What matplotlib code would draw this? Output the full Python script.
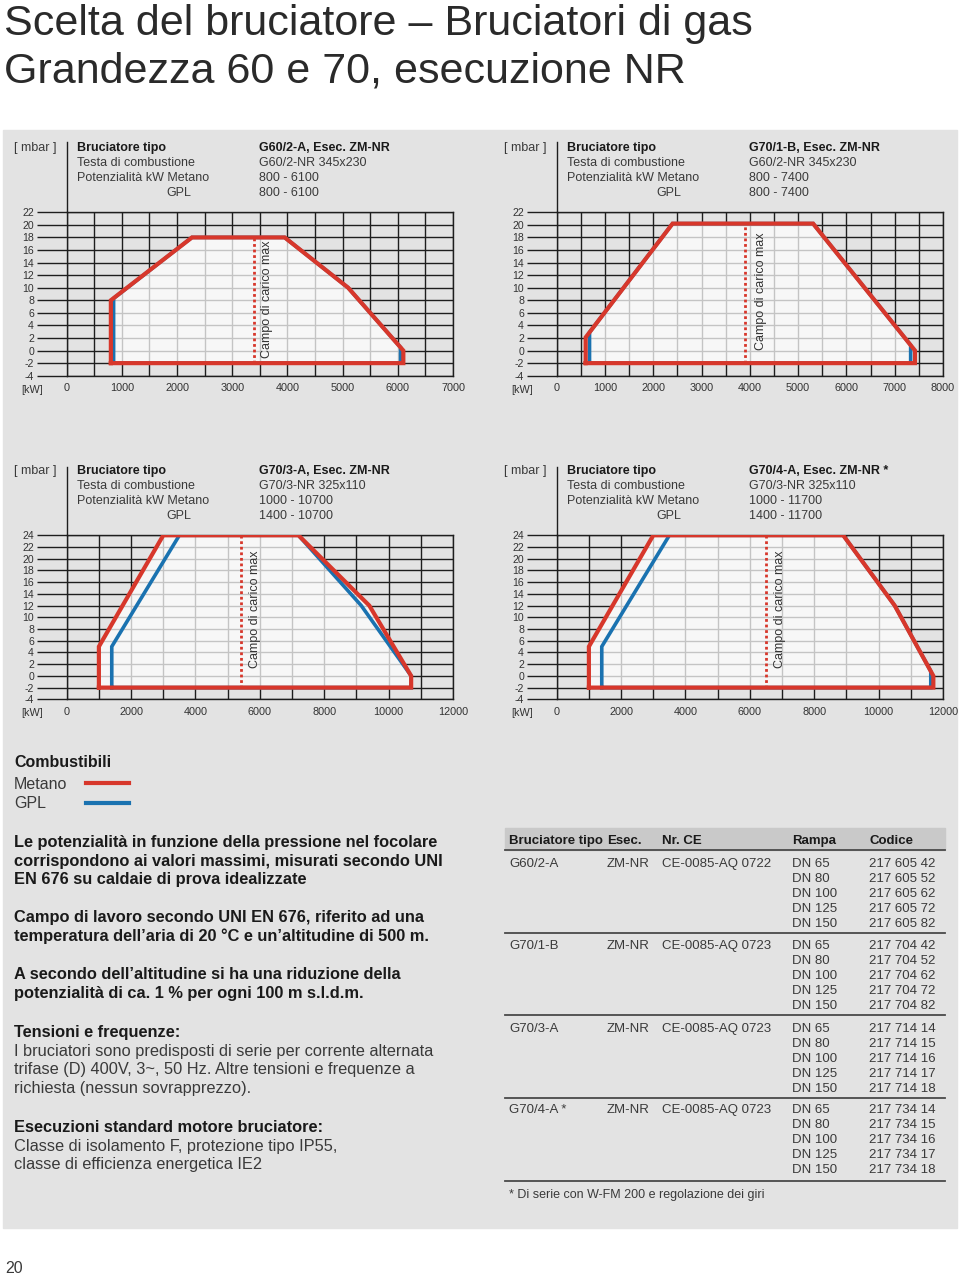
import matplotlib.pyplot as plt
from matplotlib.patches import Rectangle
from matplotlib.lines import Line2D

plt.rcParams['font.family'] = ['Liberation Sans', 'DejaVu Sans']
plt.rcParams['axes.unicode_minus'] = False

W, H = 960, 1274
RED = '#d7372b'
BLUE = '#1a72b0'
DARK = '#1a1a1a'
TXT = '#3a3a3a'

# working ranges (kW, mbar)
metano_1 = [(800, -2), (800, 8), (2270, 18), (3950, 18), (5100, 10), (6100, 0), (6100, -2)]
gpl_1 = [(850, -2), (850, 8.3), (2270, 18), (3950, 18), (5100, 10), (6050, 0.5), (6050, -2)]
metano_2 = [(600, -2), (600, 2.1), (2400, 20.2), (5310, 20.2), (7420, 0), (7420, -2)]
gpl_2 = [(680, -2), (680, 2.9), (2400, 20.2), (5310, 20.2), (7330, 0.86), (7330, -2)]
metano_3 = [(1000, -2), (1000, 5), (3000, 24), (7200, 24), (9400, 12), (10700, 0), (10700, -2)]
gpl_3 = [(1400, -2), (1400, 5), (3500, 24), (7200, 24), (9150, 12), (10700, 0), (10700, -2)]
metano_4 = [(1000, -2), (1000, 5), (3000, 24), (8900, 24), (10500, 12), (11700, 0), (11700, -2)]
gpl_4 = [(1400, -2), (1400, 5), (3500, 24), (8900, 24), (10500, 12), (11620, 0.8), (11620, -2)]

# "Campo di carico max" line: x position and top
carico_x = [3400, 3900, 5400, 6500]
carico_top = [18, 20.2, 24, 24]
carico_text_x = [3630, 4240, 5840, 6930]
carico_text_y = [-1.2, 0.1, 1.3, 1.3]

x_max = [7000, 8000, 12000, 12000]
y_max = [22, 22, 24, 24]
x_label_step = [1000, 1000, 2000, 2000]
x_grid_step = [500, 500, 1000, 1000]

burner_types = ["G60/2-A, Esec. ZM-NR", "G70/1-B, Esec. ZM-NR",
                "G70/3-A, Esec. ZM-NR", "G70/4-A, Esec. ZM-NR *"]
heads = ["G60/2-NR 345x230", "G60/2-NR 345x230", "G70/3-NR 325x110", "G70/3-NR 325x110"]
range_metano = ["800 - 6100", "800 - 7400", "1000 - 10700", "1000 - 11700"]
range_gpl = ["800 - 6100", "800 - 7400", "1400 - 10700", "1400 - 11700"]

# table
table_header = ["Bruciatore tipo", "Esec.", "Nr. CE", "Rampa", "Codice"]
table_types = ["G60/2-A", "G70/1-B", "G70/3-A", "G70/4-A *"]
table_esec = ["ZM-NR", "ZM-NR", "ZM-NR", "ZM-NR"]
table_ce = ["CE-0085-AQ 0722", "CE-0085-AQ 0723", "CE-0085-AQ 0723", "CE-0085-AQ 0723"]
rampe = ["DN 65", "DN 80", "DN 100", "DN 125", "DN 150"]
codici = [["217 605 42", "217 605 52", "217 605 62", "217 605 72", "217 605 82"],
          ["217 704 42", "217 704 52", "217 704 62", "217 704 72", "217 704 82"],
          ["217 714 14", "217 714 15", "217 714 16", "217 714 17", "217 714 18"],
          ["217 734 14", "217 734 15", "217 734 16", "217 734 17", "217 734 18"]]

metano_all = [metano_1, metano_2, metano_3, metano_4]
gpl_all = [gpl_1, gpl_2, gpl_3, gpl_4]


def fx(x):
    return x / W


def fy(y):
    return 1 - y / H


def ftext(x, y, s, **kw):
    kw.setdefault('va', 'baseline')
    fig.text(fx(x), fy(y), s, **kw)


def fline(x0, x1, y0, y1, **kw):
    fig.add_artist(Line2D([fx(x0), fx(x1)], [fy(y0), fy(y1)], transform=fig.transFigure, **kw))


fig = plt.figure(figsize=(W / 100, H / 100), dpi=100)
fig.patches.append(Rectangle((fx(3), fy(1228)), 954 / W, 1098 / H, transform=fig.transFigure,
                             color='#e3e3e3', zorder=-5))

# title
ftext(4, 35, "Scelta del bruciatore – Bruciatori di gas", fontsize=31, color='#2a2a2a')
ftext(4, 83, "Grandezza 60 e 70, esecuzione NR", fontsize=31, color='#2a2a2a')

# charts
for i in range(4):
    ox = 0 if i % 2 == 0 else 490
    oy = 0 if i < 2 else 323
    left, top = ox + 66.7, oy + 212.3
    w = 386.3
    h = 163.4 if i < 2 else 164
    ax = fig.add_axes([fx(left), fy(top + h), w / W, h / H])
    ax.set_facecolor('none')
    ax.set_xlim(0, x_max[i])
    ax.set_ylim(-4, y_max[i])
    ax.set_xticks(range(0, x_max[i] + 1, x_label_step[i]))
    ax.set_xticks(range(0, x_max[i] + 1, x_grid_step[i]), minor=True)
    ax.set_yticks(range(-4, y_max[i] + 1, 2))
    ax.set_axisbelow(True)
    ax.grid(True, which='both', axis='x', color='#1e1e1e', lw=1)
    ax.grid(True, which='major', axis='y', color='#1e1e1e', lw=1)
    ax.tick_params(axis='x', which='both', length=0, pad=5.5, labelsize=7.8, labelcolor='#333')
    ax.tick_params(axis='y', length=21.4, width=1, pad=2.2, labelsize=7.6,
                   labelcolor='#333', color='#1e1e1e')
    for s in ax.spines.values():
        s.set_color('#1e1e1e')
        s.set_linewidth(1)

    mx, my = zip(*metano_all[i])
    gx, gy = zip(*gpl_all[i])
    ax.fill(mx, my, color='white', alpha=0.74, lw=0, zorder=1)
    ax.plot(list(gx) + [gx[0]], list(gy) + [gy[0]], color=BLUE, lw=2.6, zorder=2,
            solid_joinstyle='miter')
    ax.plot([carico_x[i], carico_x[i]], [-2, carico_top[i]], color=RED, lw=2,
            ls=(0, (1, 1)), zorder=2.5)
    ax.plot(list(mx) + [mx[0]], list(my) + [my[0]], color=RED, lw=3, zorder=3,
            solid_joinstyle='miter')
    ax.text(carico_text_x[i], carico_text_y[i], "Campo di carico max", rotation=90,
            ha='center', va='bottom', fontsize=9, color='#333', zorder=4)

    # y axis line running up into the header
    fline(left, left, oy + (142 if i < 2 else 143.7), top, color='#1e1e1e', lw=1)

    ftext(ox + 14, oy + 151, "[ mbar ]", fontsize=9, color=TXT)
    ftext(ox + 21, oy + 393, "[kW]", fontsize=7.8, color='#333')
    ftext(ox + 77, oy + 151, "Bruciatore tipo", fontsize=9, fontweight='bold', color=DARK)
    ftext(ox + 77, oy + 166, "Testa di combustione", fontsize=9, color=TXT)
    ftext(ox + 77, oy + 181, "Potenzialità kW Metano", fontsize=9, color=TXT)
    ftext(ox + 166, oy + 196, "GPL", fontsize=9, color=TXT)
    ftext(ox + 259, oy + 151, burner_types[i], fontsize=9, fontweight='bold', color=DARK)
    ftext(ox + 259, oy + 166, heads[i], fontsize=9, color=TXT)
    ftext(ox + 259, oy + 181, range_metano[i], fontsize=9, color=TXT)
    ftext(ox + 259, oy + 196, range_gpl[i], fontsize=9, color=TXT)

# legend
ftext(14, 767, "Combustibili", fontsize=11.5, fontweight='bold', color=DARK)
ftext(14, 789, "Metano", fontsize=11.5, color=TXT)
ftext(14, 808, "GPL", fontsize=11.5, color=TXT)
fline(86, 129, 783.3, 783.3, color=RED, lw=3)
fline(86, 129, 802.7, 802.7, color=BLUE, lw=3)

# notes
bold_lines = [
    (846.7, "Le potenzialità in funzione della pressione nel focolare"),
    (865.7, "corrispondono ai valori massimi, misurati secondo UNI"),
    (884.3, "EN 676 su caldaie di prova idealizzate"),
    (921.7, "Campo di lavoro secondo UNI EN 676, riferito ad una"),
    (940.7, "temperatura dell’aria di 20 °C e un’altitudine di 500 m."),
    (979.3, "A secondo dell’altitudine si ha una riduzione della"),
    (998.3, "potenzialità di ca. 1 % per ogni 100 m s.l.d.m."),
    (1036.7, "Tensioni e frequenze:"),
    (1131.7, "Esecuzioni standard motore bruciatore:"),
]
regular_lines = [
    (1055.7, "I bruciatori sono predisposti di serie per corrente alternata"),
    (1074.3, "trifase (D) 400V, 3~, 50 Hz. Altre tensioni e frequenze a"),
    (1093.3, "richiesta (nessun sovrapprezzo)."),
    (1150.7, "Classe di isolamento F, protezione tipo IP55,"),
    (1169.3, "classe di efficienza energetica IE2"),
]
for y, s in bold_lines:
    ftext(14, y, s, fontsize=11.8, fontweight='bold', color=DARK)
for y, s in regular_lines:
    ftext(14, y, s, fontsize=11.8, color=TXT)

# table
col_x = [509, 607, 662, 792, 869]
fig.patches.append(Rectangle((fx(505), fy(850)), 440 / W, 22 / H, transform=fig.transFigure,
                             color='#c9c9c9', zorder=0.5))
fline(505, 945, 850, 850, color='#4a4a4a', lw=1.3)
for x, s in zip(col_x, table_header):
    ftext(x, 844, s, fontsize=9.5, fontweight='bold', color=DARK)

group_y = [866.7, 949.3, 1031.7, 1113.3]
sep_y = [932.7, 1015, 1098, 1181]
for g in range(4):
    y0 = group_y[g]
    ftext(col_x[0], y0, table_types[g], fontsize=9.5, color=TXT)
    ftext(col_x[1], y0, table_esec[g], fontsize=9.5, color=TXT)
    ftext(col_x[2], y0, table_ce[g], fontsize=9.5, color=TXT)
    for k in range(5):
        ftext(col_x[3], y0 + 15 * k, rampe[k], fontsize=9.5, color=TXT)
        ftext(col_x[4], y0 + 15 * k, codici[g][k], fontsize=9.5, color=TXT)
    fline(505, 945, sep_y[g], sep_y[g], color='#4a4a4a', lw=1.3)

ftext(509, 1198, "* Di serie con W-FM 200 e regolazione dei giri", fontsize=9, color=TXT)

ftext(5, 1273, "20", fontsize=11.5, color=TXT)

fig.savefig('out.png', dpi=100)
